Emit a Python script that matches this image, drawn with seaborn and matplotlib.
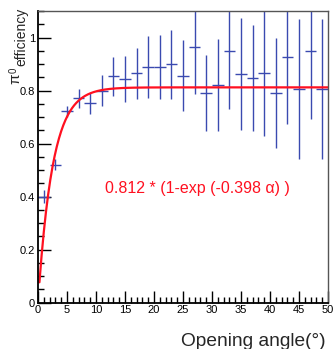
import numpy as np
import pandas as pd
import seaborn as sns
import matplotlib.pyplot as plt
from matplotlib.ticker import MultipleLocator

# measured pi0 efficiency per 2-degree opening angle bin
bin_center = [1, 3, 5, 7, 9, 11, 13, 15, 17, 19, 21, 23, 25,
              27, 29, 31, 33, 35, 37, 39, 41, 43, 45, 47, 49]
efficiency = [0.40, 0.52, 0.722, 0.771, 0.752, 0.799, 0.853, 0.844, 0.866,
              0.889, 0.889, 0.900, 0.855, 0.966, 0.791, 0.820, 0.949, 0.862,
              0.847, 0.866, 0.791, 0.928, 0.806, 0.949, 0.806]
eff_err = [0.025, 0.02, 0.02, 0.036, 0.04, 0.058, 0.075, 0.087, 0.096,
           0.116, 0.12, 0.13, 0.134, 0.18, 0.142, 0.173, 0.218, 0.21,
           0.2, 0.236, 0.206, 0.253, 0.265, 0.257, 0.265]
bin_half = 1.0

# fit parameters
fit_a = 0.812
fit_b = 0.398

sns.set_style("ticks")
plt.rcParams["font.family"] = ["Liberation Sans", "DejaVu Sans"]

fig = plt.figure(figsize=(3.35, 3.49), dpi=100)
ax = fig.add_axes([0.1134, 0.1327, 0.8656, 0.8358])

df = pd.DataFrame({"angle": bin_center, "eff": efficiency, "err": eff_err})
ax.errorbar(df["angle"], df["eff"], yerr=df["err"], xerr=bin_half,
            fmt="none", ecolor="#3a4ab0", elinewidth=1.0, capsize=0)

fit_x = np.linspace(0.25, 50, 400)
fit_df = pd.DataFrame({"x": fit_x, "y": fit_a * (1 - np.exp(-fit_b * fit_x))})
sns.lineplot(data=fit_df, x="x", y="y", ax=ax, color="#ff1020", linewidth=1.6)

ax.set_xlim(0, 50)
ax.set_ylim(0, 1.1)
ax.xaxis.set_major_locator(MultipleLocator(5))
ax.xaxis.set_minor_locator(MultipleLocator(1))
ax.yaxis.set_minor_locator(MultipleLocator(0.05))
ax.set_yticks([0, 0.2, 0.4, 0.6, 0.8, 1.0])
ax.set_yticklabels(["0", "0.2", "0.4", "0.6", "0.8", "1"])
ax.tick_params(which="both", direction="in", labelsize=8, colors="black",
               pad=2, width=1.0)
ax.tick_params(which="major", length=9)
ax.tick_params(which="minor", length=4.5)
ax.set_xlabel("")
ax.set_ylabel("")

for side in ["left", "bottom"]:
    ax.spines[side].set_color("black")
    ax.spines[side].set_linewidth(1.3)
for side in ["top", "right"]:
    ax.spines[side].set_visible(True)
    ax.spines[side].set_color("#555555")
    ax.spines[side].set_linewidth(1.0)

# y title: pi, superscript 0, subscript "efficiency"
H = 349.0
W = 335.0
fig.text(15 / W, 1 - 84 / H, "π", rotation=90, ha="center", va="bottom",
         fontsize=11)
fig.text(14 / W, 1 - 73 / H, "0", rotation=90, ha="center", va="bottom",
         fontsize=7)
fig.text(21 / W, 1 - 66 / H, "efficiency", rotation=90, ha="center",
         va="bottom", fontsize=10)

fig.text(0.973, 0.01, "Opening angle(°)", ha="right", va="baseline",
         fontsize=13.8)
ax.text(27.5, 0.43, "0.812 * (1-exp (-0.398 α) )", color="#ff1020",
        ha="center", va="center", fontsize=11.5)

fig.savefig("out.png", dpi=100)
